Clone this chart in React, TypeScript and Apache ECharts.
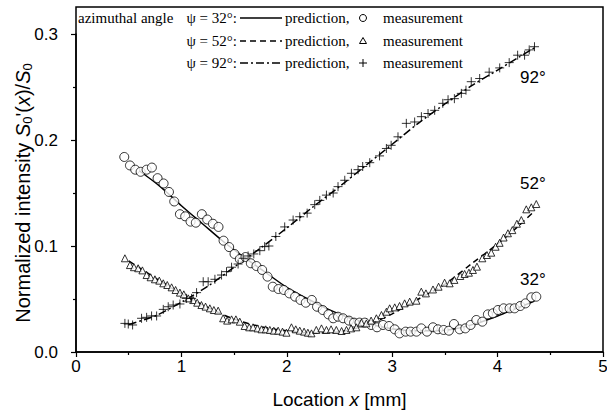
import React, { useEffect, useRef } from "react";
import * as echarts from "echarts";

// ---- data (x in mm, normalized intensity) ----
const meas32: [number, number][] = [
  [0.458,0.184],[0.512,0.176],[0.562,0.172],[0.613,0.170],[0.670,0.172],[0.720,0.174],[0.774,0.164],[0.831,0.159],[0.882,0.151],[0.932,0.142],[0.986,0.130],[1.036,0.128],[1.087,0.123],[1.137,0.122],[1.194,0.130],[1.245,0.125],[1.299,0.121],[1.352,0.118],[1.400,0.105],[1.453,0.099],[1.504,0.0925],[1.554,0.0877],[1.608,0.0896],[1.659,0.0837],[1.712,0.0811],[1.766,0.0774],[1.817,0.0711],[1.867,0.0616],[1.921,0.0594],[1.972,0.0585],[2.025,0.0553],[2.079,0.0522],[2.130,0.0491],[2.180,0.0465],[2.237,0.0491],[2.287,0.0427],[2.341,0.0396],[2.395,0.0355],[2.44,0.0318],[2.486,0.0333],[2.534,0.0318],[2.59,0.0296],[2.638,0.0277],[2.69,0.0277],[2.74,0.0277],[2.80,0.0255],[2.856,0.0233],[2.913,0.0255],[2.97,0.0245],[3.024,0.0214],[3.07,0.0176],[3.128,0.0192],[3.175,0.0192],[3.23,0.0192],[3.276,0.0223],[3.33,0.0192],[3.387,0.0233],[3.434,0.0214],[3.488,0.0208],[3.538,0.0201],[3.586,0.0264],[3.64,0.0214],[3.694,0.0223],[3.744,0.0255],[3.798,0.0302],[3.855,0.0286],[3.908,0.0355],[3.955,0.0365],[4.003,0.0396],[4.057,0.0412],[4.114,0.0412],[4.161,0.0412],[4.215,0.0434],[4.265,0.0459],[4.32,0.0516],[4.367,0.0522],
];
const meas52: [number, number][] = [
  [0.464,0.0884],[0.512,0.082],[0.55,0.080],[0.59,0.079],[0.63,0.077],[0.67,0.0726],[0.708,0.0705],[0.749,0.0686],[0.79,0.0673],[0.828,0.0648],[0.866,0.0632],[0.907,0.061],[0.945,0.0585],[0.986,0.056],[1.023,0.0544],[1.065,0.0506],[1.112,0.049],[1.15,0.0465],[1.19,0.0443],[1.229,0.0428],[1.27,0.0412],[1.308,0.0396],[1.349,0.039],[1.396,0.0318],[1.434,0.0296],[1.476,0.0308],[1.517,0.0308],[1.554,0.0286],[1.60,0.0245],[1.643,0.0233],[1.68,0.0233],[1.722,0.0223],[1.76,0.0214],[1.80,0.0214],[1.839,0.0208],[1.877,0.0201],[1.918,0.0201],[1.959,0.0192],[1.997,0.0182],[2.044,0.0233],[2.085,0.0214],[2.123,0.0201],[2.164,0.0192],[2.20,0.0182],[2.234,0.0176],[2.28,0.0208],[2.329,0.0223],[2.376,0.0208],[2.42,0.0214],[2.47,0.0208],[2.52,0.0198],[2.566,0.0208],[2.61,0.0223],[2.66,0.0233],[2.708,0.0277],[2.755,0.027],[2.80,0.0296],[2.85,0.0318],[2.898,0.0349],[2.945,0.038],[2.976,0.0412],[3.024,0.0421],[3.07,0.0434],[3.118,0.0459],[3.166,0.0475],[3.23,0.0484],[3.276,0.0569],[3.32,0.0553],[3.387,0.059],[3.44,0.0616],[3.497,0.0654],[3.545,0.0648],[3.59,0.068],[3.646,0.0717],[3.687,0.0736],[3.728,0.0748],[3.766,0.0774],[3.804,0.0805],[3.855,0.0884],[3.899,0.0915],[3.94,0.0937],[3.981,0.0993],[4.019,0.103],[4.057,0.108],[4.098,0.112],[4.14,0.115],[4.183,0.121],[4.225,0.1245],[4.272,0.1346],[4.32,0.1365],[4.367,0.1396],
];
const meas92: [number, number][] = [
  [0.464,0.027],[0.496,0.0264],[0.537,0.0255],[0.622,0.0318],[0.67,0.0327],[0.717,0.034],[0.765,0.034],[0.828,0.0402],[0.875,0.0427],[0.922,0.0443],[0.986,0.0453],[1.049,0.0506],[1.097,0.0506],[1.144,0.056],[1.207,0.0663],[1.254,0.0663],[1.318,0.0686],[1.381,0.0726],[1.428,0.0758],[1.476,0.080],[1.538,0.083],[1.586,0.0884],[1.633,0.0906],[1.687,0.0925],[1.744,0.0956],[1.79,0.0994],[1.83,0.100],[1.896,0.109],[1.98,0.118],[2.06,0.1245],[2.123,0.1276],[2.193,0.131],[2.265,0.139],[2.313,0.143],[2.376,0.148],[2.44,0.150],[2.486,0.156],[2.55,0.162],[2.613,0.1686],[2.676,0.172],[2.72,0.175],[2.787,0.1786],[2.88,0.185],[2.945,0.192],[2.99,0.195],[3.055,0.203],[3.134,0.2157],[3.213,0.217],[3.277,0.222],[3.34,0.225],[3.403,0.228],[3.48,0.2346],[3.53,0.238],[3.59,0.239],[3.656,0.244],[3.70,0.247],[3.75,0.255],[3.83,0.258],[3.92,0.264],[4.02,0.268],[4.11,0.273],[4.19,0.280],[4.256,0.280],[4.30,0.285],[4.35,0.288],
];
const pred32: [number, number][] = [
  [0.6,0.171],[0.8,0.156],[1.0,0.138],[1.2,0.121],[1.4,0.104],[1.6,0.089],[1.8,0.075],[2.0,0.061],[2.2,0.050],[2.4,0.040],[2.6,0.032],[2.8,0.026],[3.0,0.022],[3.2,0.020],[3.4,0.020],[3.6,0.022],[3.8,0.027],[4.0,0.034],[4.2,0.042],[4.35,0.048],
];
const pred52: [number, number][] = [
  [0.5,0.086],[0.75,0.070],[1.0,0.055],[1.25,0.042],[1.5,0.031],[1.75,0.024],[2.0,0.020],[2.25,0.018],[2.5,0.019],[2.75,0.025],[3.0,0.036],[3.25,0.050],[3.5,0.064],[3.75,0.083],[4.0,0.102],[4.2,0.119],[4.35,0.133],
];
const pred92: [number, number][] = [
  [0.5,0.026],[0.75,0.034],[1.0,0.047],[1.25,0.062],[1.5,0.080],[1.75,0.098],[2.0,0.117],[2.25,0.137],[2.5,0.156],[2.75,0.176],[3.0,0.196],[3.25,0.216],[3.5,0.234],[3.75,0.251],[4.0,0.266],[4.2,0.278],[4.35,0.287],
];
const angleLabels = ["32°", "52°", "92°"];
const legendAngles = ["ψ = 32°:", "ψ = 52°:", "ψ = 92°:"];

const SANS = "'Liberation Sans', Arial, sans-serif";
const SERIF = "'Liberation Serif', 'Times New Roman', serif";
const PLUS = "path://M5 0 L5 10 M0 5 L10 5";

export default function App() {
  const ref = useRef<HTMLDivElement>(null);
  useEffect(() => {
    document.body.style.margin = "0";
    const chart = echarts.init(ref.current!, null, { renderer: "svg" });
    const rowY = [18, 41, 63];
    const lineDash = [null, [6, 4], [8, 3, 2, 3]];
    const F = `15px ${SERIF}`;
    const legend: any[] = [];
    legend.push({ type: "text", x: 78, y: rowY[0], style: { text: "azimuthal angle", font: F, fill: "#000", verticalAlign: "middle" } });
    rowY.forEach((y, i) => {
      legend.push({ type: "text", x: 237, y, style: { text: legendAngles[i], font: F, fill: "#000", verticalAlign: "middle", align: "right" } });
      legend.push({ type: "line", shape: { x1: 240, y1: y, x2: 282, y2: y }, style: { stroke: "#000", lineWidth: 1.5, lineDash: lineDash[i] || undefined } });
      legend.push({ type: "text", x: 285, y, style: { text: "prediction,", font: F, fill: "#000", verticalAlign: "middle" } });
      legend.push({ type: "text", x: 383, y, style: { text: "measurement", font: F, fill: "#000", verticalAlign: "middle" } });
    });
    legend.push({ type: "circle", shape: { cx: 363, cy: rowY[0], r: 3.5 }, style: { fill: "#fff", stroke: "#000", lineWidth: 1 } });
    legend.push({ type: "polygon", shape: { points: [[363, rowY[1] - 3.5], [359.5, rowY[1] + 2.5], [366.5, rowY[1] + 2.5]] }, style: { fill: "#fff", stroke: "#000", lineWidth: 1 } });
    legend.push({ type: "line", shape: { x1: 359, y1: rowY[2], x2: 367, y2: rowY[2] }, style: { stroke: "#000", lineWidth: 1 } });
    legend.push({ type: "line", shape: { x1: 363, y1: rowY[2] - 4, x2: 363, y2: rowY[2] + 4 }, style: { stroke: "#000", lineWidth: 1 } });

    const angleLbl = [
      { text: angleLabels[0], y: 279 },
      { text: angleLabels[1], y: 183 },
      { text: angleLabels[2], y: 77 },
    ].map((a) => ({ type: "text", x: 520, y: a.y, style: { text: a.text, font: `17px ${SANS}`, fill: "#000", verticalAlign: "middle" } }));

    const scatterBase = { type: "scatter", z: 5, itemStyle: { color: "#fff", borderColor: "#000", borderWidth: 1 } };
    const lineBase = { type: "line", smooth: 0.3, showSymbol: false, symbol: "none", z: 3 };

    chart.setOption({
      animation: false,
      backgroundColor: "#fff",
      grid: { left: 76, right: 4, top: 34, bottom: 62, containLabel: false, outerBoundsMode: "none" },
      xAxis: {
        type: "value", min: 0, max: 5, interval: 1,
        name: "Location {i|x} [mm]", nameLocation: "middle", nameGap: 38,
        nameTextStyle: { fontSize: 19, fontFamily: SANS, color: "#000", rich: { i: { fontStyle: "italic", fontSize: 19, fontFamily: SANS } } },
        axisLine: { lineStyle: { color: "#000", width: 1.5 } },
        axisTick: { show: true, inside: false, length: 5, lineStyle: { color: "#000", width: 1.2 } },
        minorTick: { show: true, splitNumber: 2, length: 3, lineStyle: { color: "#000", width: 1.2 } },
        axisLabel: { fontSize: 17, fontFamily: SANS, color: "#000", margin: 6 },
        splitLine: { show: false },
      },
      yAxis: {
        type: "value", min: 0, max: 0.3, interval: 0.1,
        name: "Normalized intensity {i|S}{sub|0}'({i|x})/{i|S}{sub|0}", nameLocation: "middle", nameGap: 42, nameRotate: 90,
        nameMoveOverlap: false,
        nameTextStyle: {
          fontSize: 20, fontFamily: SANS, color: "#000",
          rich: {
            i: { fontStyle: "italic", fontSize: 20, fontFamily: SANS },
            sub: { fontSize: 13, fontFamily: SANS, padding: [9, 0, 0, 0] },
          },
        },
        axisLine: { show: true, lineStyle: { color: "#000", width: 1.5 } },
        axisTick: { show: true, inside: false, length: 5, lineStyle: { color: "#000", width: 1.2 } },
        minorTick: { show: true, splitNumber: 2, length: 3, lineStyle: { color: "#000", width: 1.2 } },
        axisLabel: { fontSize: 17, fontFamily: SANS, color: "#000", margin: 18, formatter: (v: number) => v.toFixed(1) },
        splitLine: { show: false },
      },
      graphic: [
        { type: "rect", shape: { x: 76, y: 7, width: 527, height: 345 }, style: { fill: "none", stroke: "#000", lineWidth: 1.5 }, z: 10, silent: true },
        ...legend,
        ...angleLbl,
      ],
      series: [
        { ...lineBase, name: "pred32", data: pred32, lineStyle: { color: "#000", width: 1.5, type: "solid" } },
        { ...lineBase, name: "pred52", data: pred52, lineStyle: { color: "#000", width: 1.5, type: [6, 4] } },
        { ...lineBase, name: "pred92", data: pred92, lineStyle: { color: "#000", width: 1.5, type: [8, 3, 2, 3] } },
        { ...scatterBase, name: "meas32", data: meas32, symbol: "circle", symbolSize: 9 },
        { ...scatterBase, name: "meas52", data: meas52, symbol: "triangle", symbolSize: 7 },
        { ...scatterBase, name: "meas92", data: meas92, symbol: PLUS, symbolSize: 9, itemStyle: { color: "none", borderColor: "#000", borderWidth: 1 } },
      ],
    });
    return () => chart.dispose();
  }, []);
  return <div ref={ref} style={{ width: 607, height: 414 }} />;
}
